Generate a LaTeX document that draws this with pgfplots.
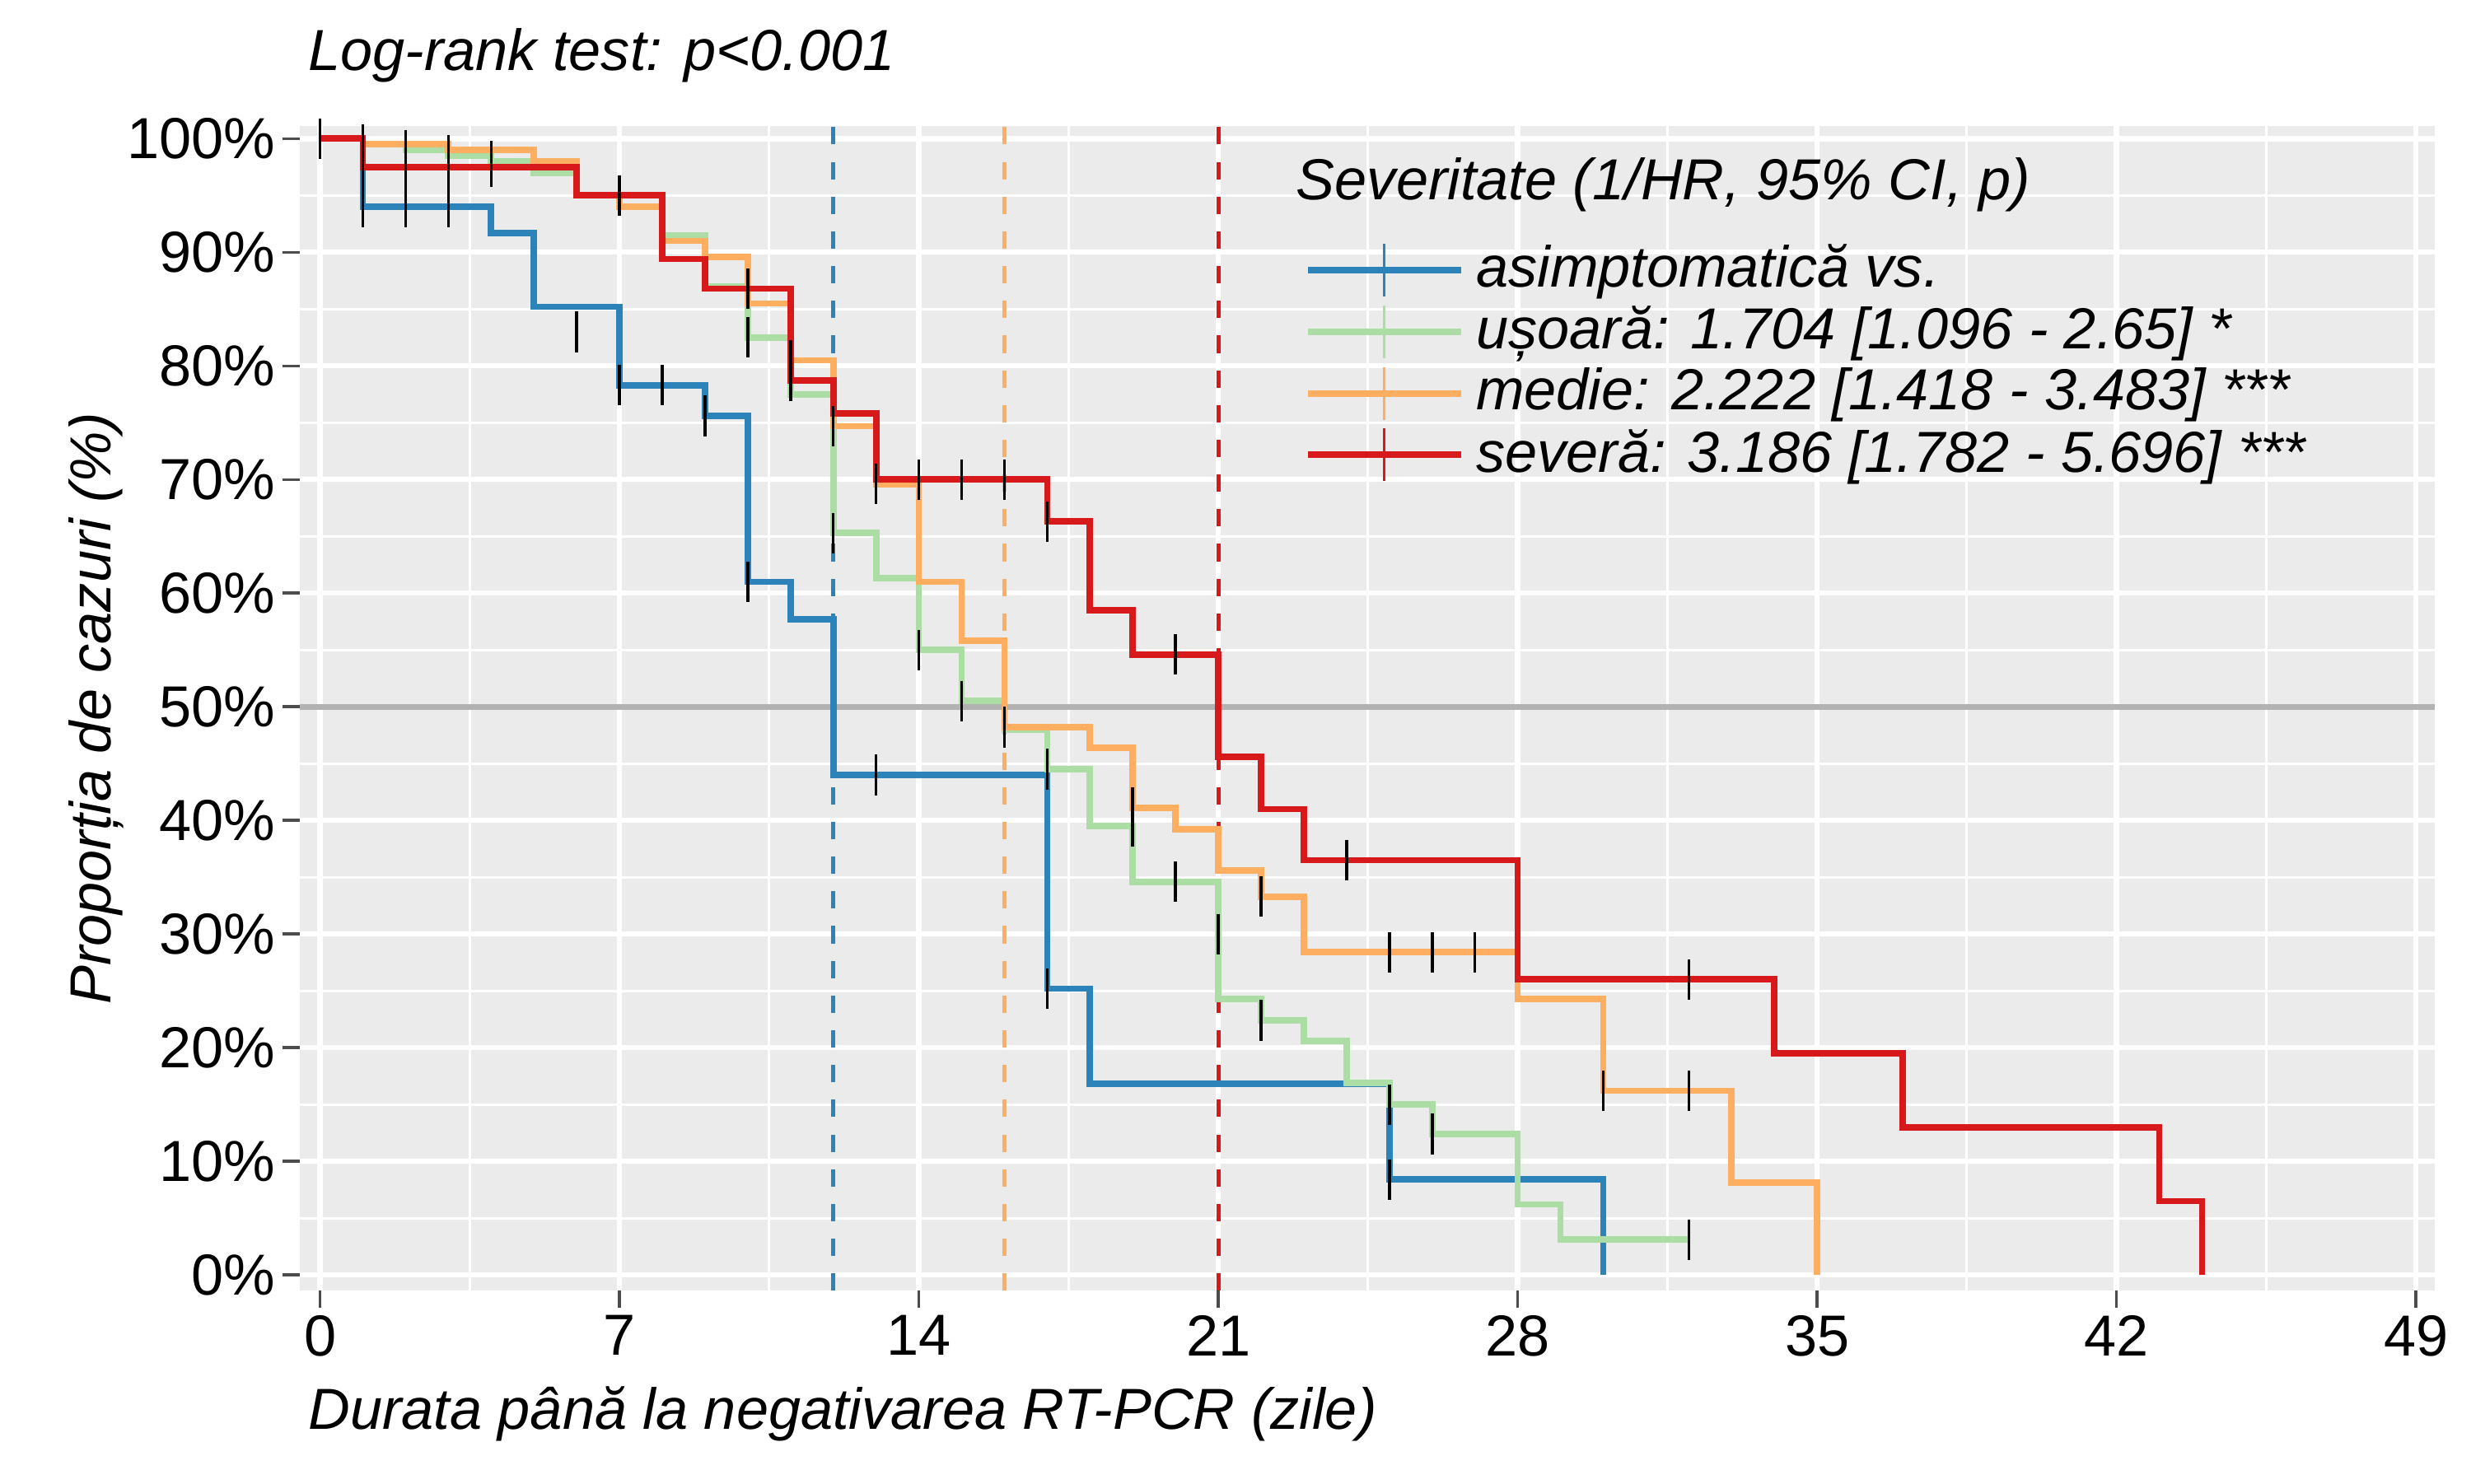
\documentclass[border=0pt]{standalone}
\usepackage{fontspec}
\setmainfont{Liberation Sans}
\usepackage{pgfplots}
\pgfplotsset{compat=1.18}
\usetikzlibrary{calc}
\definecolor{cblue}{HTML}{2B83BA}
\definecolor{cgreen}{HTML}{ABDDA4}
\definecolor{corange}{HTML}{FDAE61}
\definecolor{cred}{HTML}{D7191C}
\definecolor{bg}{HTML}{EBEBEB}
\begin{document}
\fontsize{10}{12}\selectfont
\begin{tikzpicture}
\begin{axis}[name=ax, scale only axis, width=12.96cm, height=7.07cm,
  xmin=-0.48, xmax=49.44, ymin=-1.4, ymax=101.1,
  axis background/.style={fill=bg}, axis line style={draw=none},
  xtick={0,7,...,49}, minor xtick={3.5,10.5,...,45.5},
  ytick={0,10,...,100}, minor ytick={5,15,...,95},
  grid=both, major grid style={white, line width=0.9pt}, minor grid style={white, line width=0.45pt},
  tick style={black!70, line width=0.5pt}, tick align=outside, major tick length=3pt, minor tick length=0pt,
  xtick pos=bottom, ytick pos=left,
  yticklabel={\pgfmathprintnumber{\tick}\%},
  /pgf/number format/assume math mode=true,
  ticklabel style={font=\fontsize{10}{12}\selectfont},
  tick label style={inner sep=1pt},
  xlabel={\itshape Durata până la negativarea RT-PCR (zile)},
  xlabel style={at={(0,0)}, anchor=north west, yshift=-13pt, xshift=-2pt},
  ylabel={\itshape Proporția de cazuri (\%)},
  ylabel style={yshift=-4pt},
  title={\itshape Log-rank test: p<0.001},
  title style={at={(0,1)}, anchor=south west, xshift=-2pt, yshift=-2pt},
  legend style={at={(axis cs:23.0,91.8)}, anchor=north west, draw=none, fill=none,
    font=\itshape\fontsize{10}{12}\selectfont, row sep=-2.2pt, inner sep=0pt},
  legend cell align=left,
  legend image code/.code={\draw[#1] (0cm,0cm) -- (0.93cm,0cm); \draw[#1,line width=0.5pt] (0.46cm,-0.16cm)--(0.46cm,0.16cm);},
  clip=false,
]
\addplot[gray!60, line width=1pt, forget plot] coordinates {(-0.48,50) (49.44,50)};
\addplot[cblue, dashed, line width=0.7pt, forget plot] coordinates {(12,-1.4) (12,101.1)};
\addplot[corange, dashed, line width=0.7pt, forget plot] coordinates {(16,-1.4) (16,101.1)};
\addplot[cred, dashed, line width=0.7pt, forget plot] coordinates {(21,-1.4) (21,101.1)};
\addplot[cblue, line width=1.1pt, const plot] coordinates {(0,100)(1,94)(4,91.7)(5,85.2)(7,78.3)(9,75.6)(10,61)(11,57.7)(12,44)(17,25.2)(18,16.8)(25,8.4)(30,0)};
\addplot[cgreen, line width=1.1pt, const plot] coordinates {(0,100)(1,99.5)(2,99)(3,98.5)(4,98)(5,97)(6,95)(7,94)(8,91.5)(9,87)(10,82.5)(11,77.5)(12,65.3)(13,61.3)(14,55)(15,50.5)(16,48)(17,44.5)(18,39.5)(19,34.6)(21,24.3)(22,22.4)(23,20.6)(24,16.9)(25,15)(26,12.4)(28,6.2)(29,3.1)(32,3.1)};
\addplot[corange, line width=1.1pt, const plot] coordinates {(0,100)(1,99.5)(3,99)(5,98)(6,95)(7,94)(8,91)(9,89.6)(10,85.5)(11,80.5)(12,74.7)(13,69.6)(14,61)(15,55.8)(16,48.2)(18,46.4)(19,41.1)(20,39.2)(21,35.6)(22,33.3)(23,28.4)(28,24.3)(30,16.2)(33,8.1)(35,0)};
\addplot[cred, line width=1.1pt, const plot] coordinates {(0,100)(1,97.5)(6,95)(8,89.4)(9,86.8)(11,78.7)(12,75.8)(13,70)(17,66.3)(18,58.5)(19,54.6)(21,45.6)(22,41)(23,36.5)(28,26)(34,19.5)(37,13)(43,6.5)(44,0)};
\addplot[only marks, mark=|, mark size=3.5pt, black, line width=0.5pt, forget plot] coordinates {
(1,94)(2,94)(3,94)(6,83)(7,78.3)(8,78.3)(9,75.6)(10,61)(13,44)(17,25.2)(25,8.4)
(0,100)(1,99.5)(2,99)(3,98.5)(4,98)(10,82.5)(12,65.3)(14,55)(15,50.5)(17,44.5)(19,39.5)(20,34.6)(21,30)(22,22.4)(25,15)(26,12.4)(32,3.1)
(16,48.2)(19,41.1)(22,33.3)(25,28.4)(26,28.4)(27,28.4)(30,16.2)(32,16.2)(11,80.5)(12,74.7)(13,69.6)
(1,97.5)(2,97.5)(3,97.5)(4,97.5)(7,95)(10,86.8)(11,78.7)(14,70)(15,70)(16,70)(17,66.3)(20,54.6)(24,36.5)(32,26)};
\node[anchor=south west, font=\itshape\fontsize{10}{12}\selectfont, inner sep=0pt] at (axis cs:22.8,93.5) {Severitate (1/HR, 95\% CI, p)};
\legend{asimptomatică vs.,ușoară: 1.704 [1.096 - 2.65] *,medie: 2.222 [1.418 - 3.483] ***,severă: 3.186 [1.782 - 5.696] ***}
\end{axis}
\pgfresetboundingbox
\path[use as bounding box] ($(ax.south west)+(-1.818,-1.168)$) rectangle ($(ax.north east)+(0.22,0.766)$);
\end{tikzpicture}
\end{document}
